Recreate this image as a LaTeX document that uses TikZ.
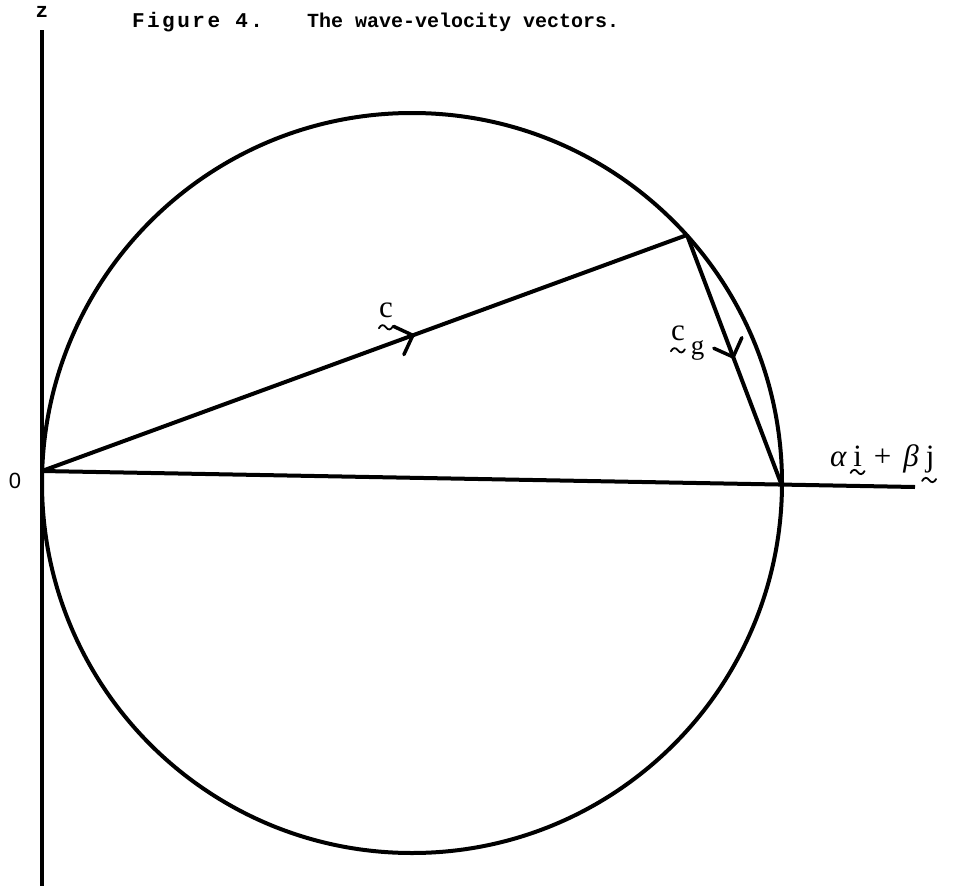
\documentclass[tikz,border=0pt]{standalone}
\usepackage{fontspec}
\newfontfamily\twfont{Liberation Mono}
\newfontfamily\sansfnt{Liberation Sans}
\newfontfamily\hfont{Liberation Serif}
\usetikzlibrary{decorations.markings}
\tikzset{
  chev/.style={postaction={decorate},
    decoration={markings, mark=at position #1 with {\draw[line width=3.5pt,line cap=round,line join=round] (-15,-15)--(0,0)--(-15,15);}}},
  hand/.style={font=\hfont\fontsize{31}{34}\selectfont, inner sep=0pt, anchor=base west},
  handsub/.style={font=\hfont\fontsize{27}{30}\selectfont, inner sep=0pt, anchor=base west},
  typed/.style={font=\twfont\bfseries\fontsize{#1}{24}\selectfont, inner sep=0pt, anchor=base west},
  tl/.pic={\draw[line width=1.8pt,line cap=round] (-7,1) .. controls (-5,-3) and (-2,-3) .. (0,0) .. controls (2,3) and (5,3) .. (7,-1);}
}
\begin{document}
\begin{tikzpicture}[x=1pt,y=-1pt,line width=4pt]
\useasboundingbox (0,0) rectangle (956,889);
\coordinate (O) at (42,471);
\coordinate (R) at (782,486);
\coordinate (P) at (687,235);
\coordinate (C) at (412,483);
\coordinate (Ztop) at (42,30);
\coordinate (Zbot) at (42,886);
\coordinate (Xend) at (915,487);
% axes
\draw[line width=4.5pt] (Ztop) -- (Zbot);
\draw (O) -- (Xend);
% circle
\draw (C) circle (370pt);
% vectors
\draw[chev=0.575] (O) -- (P);
\draw[chev=0.486] (P) -- (R);
% title and axis labels
\node[typed=21] (title1) at (130,27) {\addfontfeature{LetterSpace=12}Figure 4.};
\node[typed=20] (title2) at (305,27) {The wave-velocity vectors.};
\node[font=\twfont\bfseries\fontsize{21}{22}\selectfont, inner sep=0pt] (zlab) at (42,12) {z};
\node[font=\sansfnt\fontsize{22}{24}\selectfont, inner sep=0pt] (olab) at (15,481) {0};
% c
\node[hand] (clab) at (377,317) {c};
\pic at ([yshift=-8]clab.south) {tl};
% c_g
\node[hand] (cg) at (669,340) {c};
\node[handsub] (gsub) at ([xshift=2,yshift=-14]cg.base east) {g};
\pic at ([yshift=-8]cg.south) {tl};
% alpha i + beta j
\node[hand] (al) at (828,466) {\itshape α};
\node[hand] (ii) at ([xshift=3]al.base east) {i};
\node[hand] (pl) at ([xshift=8]ii.base east) {+};
\node[hand] (be) at ([xshift=8]pl.base east) {\itshape β};
\node[hand] (jj) at ([xshift=3]be.base east) {j};
\pic at ([yshift=-6]ii.base) {tl};
\pic at ([xshift=-1,yshift=-14]jj.base) {tl};
\end{tikzpicture}
\end{document}
